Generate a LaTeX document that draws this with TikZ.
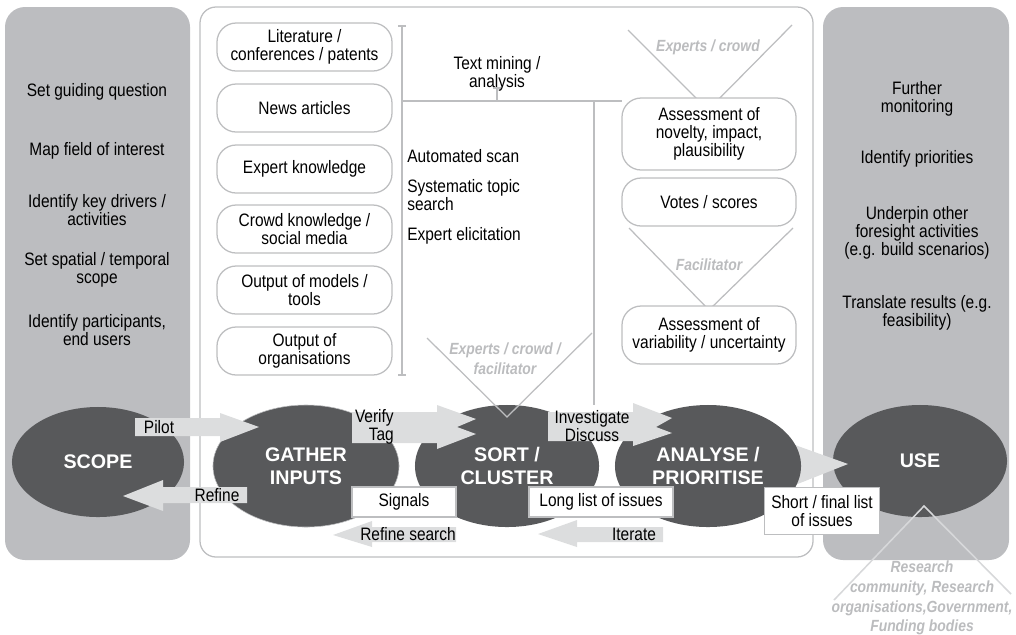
\documentclass[tikz,border=0pt]{standalone}
\usepackage{fontspec}
\setmainfont{Liberation Sans}[FakeStretch=0.86]
\newfontfamily\stagefont{Liberation Sans}
\usetikzlibrary{shapes.geometric}

\definecolor{panelgray}{HTML}{BCBDC0}
\definecolor{stagegray}{HTML}{58595B}
\definecolor{arrowgray}{HTML}{DCDDDE}
\definecolor{framegray}{HTML}{BDBEC0}
\definecolor{whogray}{HTML}{BBBCBE}
\definecolor{wholine}{HTML}{D7D8DA}

\tikzset{
  panel/.style={fill=panelgray, rounded corners=0.5cm},
  midpanel/.style={draw=framegray, line width=0.9pt, rounded corners=0.4cm},
  note/.style={align=center, inner sep=0pt},
  source/.style={draw=framegray, line width=0.9pt, fill=white,
    rounded corners=0.48cm, minimum width=4.375cm, minimum height=1.2cm,
    align=center, inner sep=1pt},
  stage/.style={ellipse, fill=stagegray, text=white, inner sep=0pt,
    align=center, font={\stagefont\bfseries\fontsize{14}{16.3}\selectfont}},
  blockarrow/.style={fill=arrowgray},
  guide/.style={draw=framegray, line width=0.9pt},
  who/.style={text=whogray, align=center, inner sep=0pt,
    font={\bfseries\itshape\fontsize{11.5}{14}\selectfont}},
  listbox/.style={draw=framegray, line width=0.9pt, fill=white,
    align=center, inner sep=1pt},
  tight/.style={align=center, inner sep=0pt,
    font={\fontsize{12.8}{10.8}\selectfont}}
}

\begin{document}
\begin{tikzpicture}[x=0.025cm, y=-0.025cm,
  every node/.style={font={\fontsize{12.8}{12.6}\selectfont}}]
\useasboundingbox (0,0) rectangle (1016,634);

% Panels
\fill[panel] (5,7) rectangle (190,560);
\fill[panel] (823,7) rectangle (1009,560);
\draw[midpanel] (200,7) rectangle (813,557);

% Scope tasks
\node[note] (q1) at (97,92) {Set guiding question};
\node[note] (q2) at (97,151) {Map field of interest};
\node[note] (q3) at (97,210) {Identify key drivers /\\ activities};
\node[note] (q4) at (97,270) {Set spatial / temporal\\ scope};
\node[note] (q5) at (97,330) {Identify participants,\\ end users};

% Use tasks
\node[note] (u1) at (917,99) {Further\\ monitoring};
\node[note] (u2) at (917,159) {Identify priorities};
\node[note] (u3) at (917,233) {Underpin other\\ foresight activities\\ (e.g. build scenarios)};
\node[note] (u4) at (917,313) {Translate results (e.g.\\ feasibility)};

% Bracket and lines
\draw[guide] (398,26) -- (406,26);
\draw[guide] (402,26) -- (402,375);
\draw[guide] (398,375) -- (406,375);
\draw[guide] (402,101) -- (622,101);
\draw[guide] (497,101) -- (497,88);
\draw[guide] (493,88) -- (501,88);
\draw[guide] (594,101) -- (594,405);
\node[note] (mining) at (497,74) {Text mining /\\ analysis};

% Input sources
\node[source] (lit) at (304.5,47) {Literature /\\ conferences / patents};
\node[source] (news) at (304.5,108) {News articles};
\node[source] (expert) at (304.5,169) {Expert knowledge};
\node[source] (crowd) at (304.5,229) {Crowd knowledge /\\ social media};
\node[source] (models) at (304.5,290) {Output of models /\\ tools};
\node[source] (orgs) at (304.5,351) {Output of\\ organisations};

% Methods
\node[anchor=west, align=left, inner sep=0pt] (scan) at (407,156) {Automated scan};
\node[anchor=west, align=left, inner sep=0pt] (topic) at (407,195) {Systematic topic\\ search};
\node[anchor=west, align=left, inner sep=0pt] (elicit) at (407,236) {Expert elicitation};

% Assessment column
\draw[guide] (628,30) -- (708,110) -- (792,25);
\node[who] (crowdA) at (708,47) {Experts / crowd};
\draw[guide] (629,228) -- (709,310) -- (793,228);
\node[who] (facil) at (709,265) {Facilitator};
\node[source, minimum width=4.35cm, minimum height=1.8cm] (novelty) at (709,134)
  {Assessment of\\ novelty, impact,\\ plausibility};
\node[source, minimum width=4.35cm] (votes) at (709,202) {Votes / scores};
\node[source, minimum width=4.35cm, minimum height=1.45cm] (vari) at (709,335)
  {Assessment of\\ variability / uncertainty};

% Stages
\node[stage, minimum width=4.35cm, minimum height=2.8cm] (use) at (920,461) {USE};
\fill[blockarrow] (795,445) -- (848,464) -- (795,485) -- cycle;
\node[stage, minimum width=4.3cm, minimum height=2.75cm] (scope) at (98,462) {SCOPE};
\node[stage, draw=framegray, minimum width=4.65cm, minimum height=3.05cm] (gather) at (306,466) {GATHER\\ INPUTS};
\node[stage, minimum width=4.6cm, minimum height=3.05cm] (sort) at (507,466) {SORT /\\ CLUSTER};
\node[stage, minimum width=4.65cm, minimum height=3.05cm] (analyse) at (708,466) {ANALYSE /\\ PRIORITISE};

% Block arrows
\fill[blockarrow] (135,418) -- (220,418) -- (220,413) -- (259,427) -- (220,442) -- (220,436) -- (135,436) -- cycle;
\node (pilot) at (159,427) {Pilot};
\fill[blockarrow] (247,487) -- (163,487) -- (163,480) -- (123,496) -- (163,511) -- (163,503) -- (247,503) -- cycle;
\node (refine) at (217,495) {Refine};
\fill[blockarrow] (352,412) -- (437,412) -- (437,405) -- (476,419) -- (457,427) -- (476,434) -- (437,449) -- (437,443) -- (352,443) -- cycle;
\node[tight, align=right, anchor=east] (verify) at (394,427) {Verify\\ Tag};
\fill[blockarrow] (548,412) -- (633,412) -- (633,403) -- (672,418) -- (656,427) -- (672,433) -- (633,446) -- (633,441) -- (548,441) -- cycle;
\node[tight] (invest) at (592,426) {Investigate\\ Discuss};
\fill[blockarrow] (456,527) -- (372,527) -- (372,521) -- (333,535) -- (372,547) -- (372,542) -- (456,542) -- cycle;
\node (rsearch) at (408,534) {Refine search};
\fill[blockarrow] (663,527) -- (577,527) -- (577,520) -- (538,534) -- (577,547) -- (577,542) -- (663,542) -- cycle;
\node (iterate) at (634,534) {Iterate};

% Lists
\node[listbox, minimum width=2.6cm, minimum height=0.75cm] (signals) at (404,502) {Signals};
\node[listbox, minimum width=3.6cm, minimum height=0.75cm] (longlist) at (601,502) {Long list of issues};
\node[listbox, minimum width=2.875cm, minimum height=1.175cm] (shortlist) at (822,511) {Short / final list\\ of issues};

% Who takes part
\draw[guide] (427,338) -- (507,417) -- (592,333);
\node[who] (crowdB) at (505,359) {Experts / crowd /\\ facilitator};
\draw[draw=wholine, line width=1.1pt] (834,600) -- (924,506) -- (1011,594);
\node[who] (users) at (922,598) {Research\\ community, Research\\ organisations,Government,\\ Funding bodies};

\end{tikzpicture}
\end{document}
